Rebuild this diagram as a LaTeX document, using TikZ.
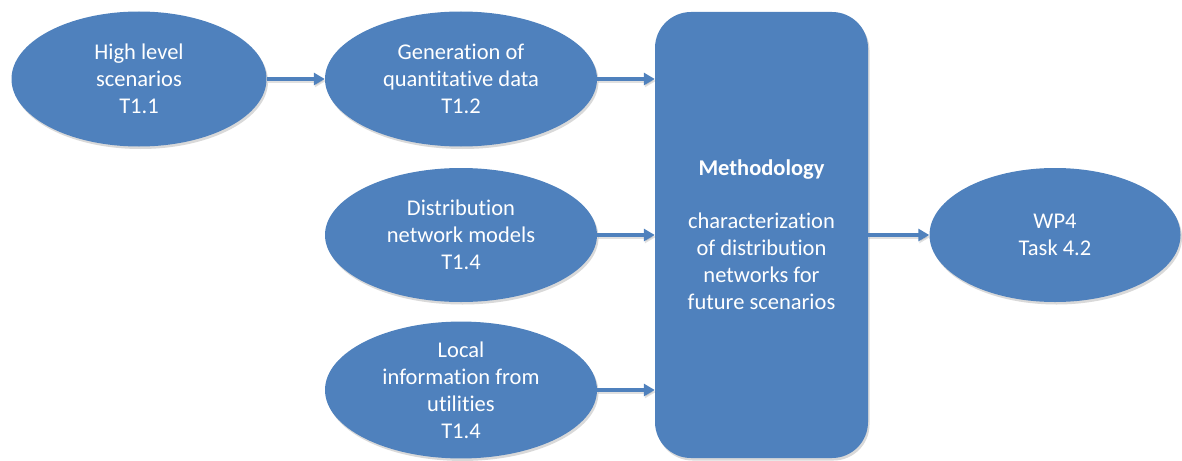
\documentclass[tikz,border=0pt]{standalone}
\usepackage{fontspec}
\setmainfont{Carlito}[Ligatures=NoCommon]
\usetikzlibrary{arrows.meta,shapes.geometric,shadows}
\definecolor{blu}{HTML}{4F81BD}
\begin{document}
\begin{tikzpicture}[x=1pt,y=-1pt,
  shd/.style={drop shadow={shadow xshift=1.5pt,shadow yshift=-2.5pt,opacity=0.25,fill=black!60}},
  oval/.style={ellipse,fill=blu,draw=none,shd,text=white,align=center,inner sep=0pt,
    font=\fontsize{22.5}{27}\selectfont},
  box/.style={rectangle,rounded corners=36pt,fill=blu,draw=none,shd,text=white,align=center,inner sep=0pt,
    font=\fontsize{22.5}{27}\selectfont},
  arr/.style={draw=blu,line width=3.5pt,-{Triangle[length=11pt,width=12pt]},
    preaction={draw=black!60,opacity=0.2,line width=3.5pt,transform canvas={xshift=1pt,yshift=-2pt}}}]
\useasboundingbox (0,0) rectangle (1182,460);
\node[box,minimum width=213pt,minimum height=446pt] (m) at (761.5,235)
  {\textbf{Methodology}\\[26pt] characterization\\ of distribution\\ networks for\\ future scenarios};
\node[oval,minimum width=255pt,minimum height=135pt] (a) at (139,79) {High level\\ scenarios\\ T1.1};
\node[oval,minimum width=272pt,minimum height=135pt] (b) at (461,79) {Generation of\\ quantitative data\\ T1.2};
\node[oval,minimum width=272pt,minimum height=134pt] (c) at (461,235) {Distribution\\ network models\\ T1.4};
\node[oval,minimum width=272pt,minimum height=134pt] (d) at (461,390) {Local\\ information from\\ utilities\\ T1.4};
\node[oval,minimum width=251pt,minimum height=134pt] (w) at (1055,235) {WP4\\ Task 4.2};
\draw[arr] (a.east) -- (b.west);
\draw[arr] (b.east) -- (b.east -| m.west);
\draw[arr] (c.east) -- (c.east -| m.west);
\draw[arr] (d.east) -- (d.east -| m.west);
\draw[arr] (m.east |- w.west) -- (w.west);
\end{tikzpicture}
\end{document}
